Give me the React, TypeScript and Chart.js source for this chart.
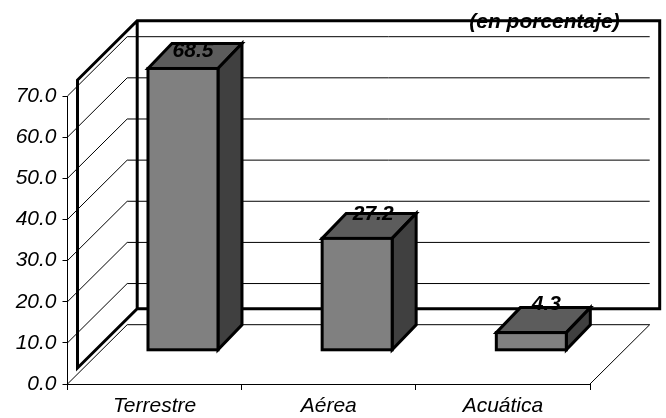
import React, { useEffect, useRef } from "react";
import { Chart, registerables } from "chart.js";

Chart.register(...registerables);

const categories = ["Terrestre", "Aérea", "Acuática"];
const shares = [68.5, 27.2, 4.3];
const unitNote = "(en porcentaje)";

const W = 666;
const H = 418;
const AREA = { left: 67.5, right: 590, top: 96, bottom: 384 };
const WALL = { dx: 59.7, dy: -59.3 };
const FRAME = { dx: 10, dy: -16 };
const BAR_SHIFT = { dx: 28.4, dy: -33.7 };
const BAR_DEPTH = { dx: 24, dy: -25 };
const LABEL_SHIFT = [
  { dx: 10, dy: -17 },
  { dx: 16, dy: -24 },
  { dx: 15, dy: -28 },
];
const FRONT = "#808080";
const TOP = "#5c5c5c";
const SIDE = "#404040";
const INK = "#000000";
const HEAVY = 3;

const depthPlugin = {
  id: "depth",
  beforeDatasetsDraw(chart: any) {
    const { ctx } = chart;
    const { x, y } = chart.scales;
    const backL = x.left + WALL.dx;
    const backR = x.right + WALL.dx;

    // walls and floor: gridlines running back from each y tick
    ctx.save();
    ctx.strokeStyle = INK;
    ctx.lineWidth = 1;
    y.ticks.forEach((t: any) => {
      const py = y.getPixelForValue(t.value);
      ctx.beginPath();
      ctx.moveTo(x.left, py);
      ctx.lineTo(backL, py + WALL.dy);
      ctx.lineTo(backR, py + WALL.dy);
      ctx.stroke();
    });
    const y0 = y.getPixelForValue(0);
    ctx.beginPath();
    ctx.moveTo(x.right, y0);
    ctx.lineTo(backR, y0 + WALL.dy);
    ctx.stroke();

    // heavy frame of the plot area
    const top = y.getPixelForValue(70);
    const fl = x.left + FRAME.dx;
    const ft = top + FRAME.dy;
    const fb = y0 + FRAME.dy;
    const bl = fl + WALL.dx;
    const br = x.right + FRAME.dx + WALL.dx;
    ctx.lineWidth = HEAVY;
    ctx.lineJoin = "miter";
    ctx.beginPath();
    ctx.moveTo(fl, fb);
    ctx.lineTo(fl, ft);
    ctx.lineTo(bl, ft + WALL.dy);
    ctx.lineTo(br, ft + WALL.dy);
    ctx.lineTo(br, fb + WALL.dy);
    ctx.lineTo(bl, fb + WALL.dy);
    ctx.closePath();
    ctx.moveTo(bl, ft + WALL.dy);
    ctx.lineTo(bl, fb + WALL.dy);
    ctx.stroke();
    ctx.restore();

    // bars: top and side faces behind the native front face
    ctx.save();
    ctx.translate(BAR_SHIFT.dx, BAR_SHIFT.dy);
    ctx.strokeStyle = INK;
    ctx.lineWidth = HEAVY;
    ctx.lineJoin = "miter";
    chart.getDatasetMeta(0).data.forEach((b: any) => {
      const l = b.x - b.width / 2;
      const r = b.x + b.width / 2;
      ctx.fillStyle = TOP;
      ctx.beginPath();
      ctx.moveTo(l, b.y);
      ctx.lineTo(l + BAR_DEPTH.dx, b.y + BAR_DEPTH.dy);
      ctx.lineTo(r + BAR_DEPTH.dx, b.y + BAR_DEPTH.dy);
      ctx.lineTo(r, b.y);
      ctx.closePath();
      ctx.fill();
      ctx.stroke();
      ctx.fillStyle = SIDE;
      ctx.beginPath();
      ctx.moveTo(r, b.y);
      ctx.lineTo(r + BAR_DEPTH.dx, b.y + BAR_DEPTH.dy);
      ctx.lineTo(r + BAR_DEPTH.dx, b.base + BAR_DEPTH.dy);
      ctx.lineTo(r, b.base);
      ctx.closePath();
      ctx.fill();
      ctx.stroke();
    });
  },
  afterDatasetsDraw(chart: any) {
    const { ctx } = chart;
    ctx.strokeStyle = INK;
    ctx.lineWidth = HEAVY;
    ctx.lineJoin = "miter";
    chart.getDatasetMeta(0).data.forEach((b: any) => {
      ctx.strokeRect(b.x - b.width / 2, b.y, b.width, b.base - b.y);
    });
    ctx.restore();

    // value labels
    ctx.save();
    ctx.fillStyle = INK;
    ctx.font = "italic bold 21px 'Liberation Sans', Arial, sans-serif";
    ctx.textAlign = "center";
    ctx.textBaseline = "middle";
    chart.getDatasetMeta(0).data.forEach((b: any, i: number) => {
      ctx.fillText(
        shares[i].toFixed(1),
        b.x + BAR_SHIFT.dx + LABEL_SHIFT[i].dx,
        b.y + BAR_SHIFT.dy + LABEL_SHIFT[i].dy
      );
    });
    ctx.fillText(unitNote, 544.5, 22);
    ctx.restore();
  },
};

export default function App() {
  const ref = useRef<HTMLCanvasElement>(null);
  useEffect(() => {
    const canvas = ref.current;
    if (!canvas) return;
    const tickFont = { family: "'Liberation Sans', Arial, sans-serif", size: 21, style: "italic" as const };
    const chart = new Chart(canvas, {
      type: "bar",
      data: {
        labels: categories,
        datasets: [
          {
            data: shares,
            backgroundColor: FRONT,
            borderWidth: 0,
            inflateAmount: 0,
            categoryPercentage: 1,
            barPercentage: 70 / 174.17,
            clip: false,
          } as any,
        ],
      },
      options: {
        animation: false,
        responsive: false,
        events: [],
        layout: {
          padding: { left: 0, top: AREA.top, right: W - AREA.right, bottom: 0 },
        },
        plugins: { legend: { display: false }, title: { display: false }, tooltip: { enabled: false } },
        scales: {
          x: {
            grid: { drawOnChartArea: false, drawTicks: true, tickLength: 6, color: INK },
            border: { color: INK, width: 1 },
            ticks: { color: "#000", font: tickFont, maxRotation: 0, autoSkip: false, padding: 4 },
            afterFit: (s: any) => {
              s.height = H - AREA.bottom;
            },
          },
          y: {
            min: 0,
            max: 70,
            grid: { drawOnChartArea: false, drawTicks: true, tickLength: 5, color: INK },
            border: { color: INK, width: 1 },
            ticks: {
              stepSize: 10,
              color: "#000",
              font: tickFont,
              padding: 6,
              callback: (v: any) => Number(v).toFixed(1),
            },
            afterFit: (s: any) => {
              s.width = AREA.left;
            },
          },
        },
      },
      plugins: [depthPlugin],
    } as any);
    return () => chart.destroy();
  }, []);
  return (
    <canvas
      ref={ref}
      width={W}
      height={H}
      style={{ position: "fixed", left: 0, top: 0, display: "block" }}
    />
  );
}
